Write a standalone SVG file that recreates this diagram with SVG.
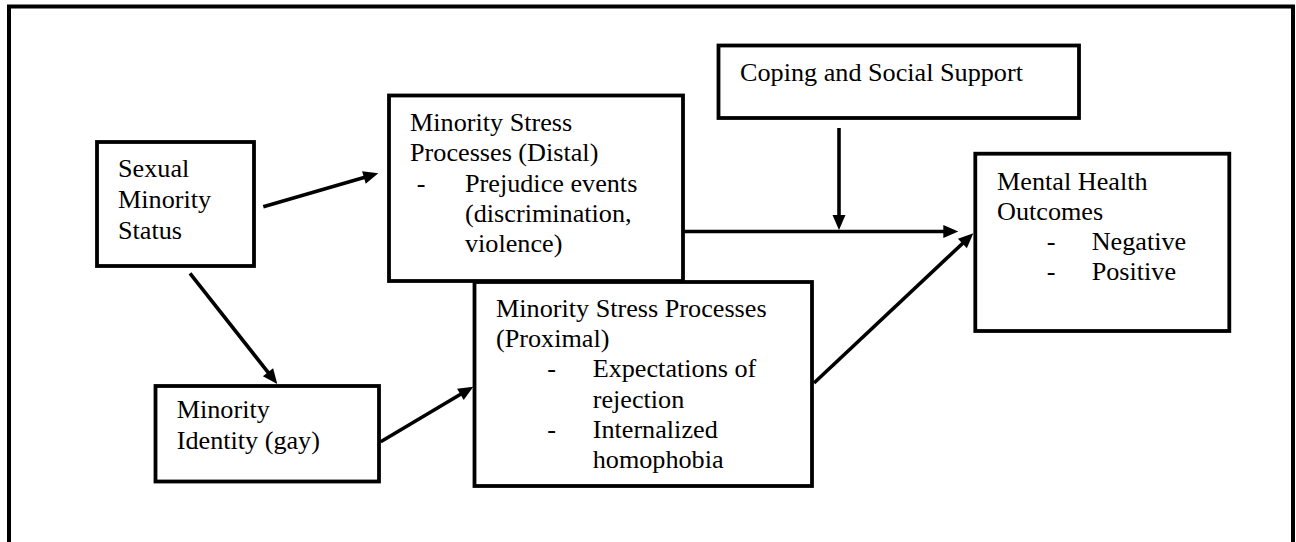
<svg xmlns="http://www.w3.org/2000/svg" width="1296" height="542" viewBox="0 0 1296 542">
<style>
.box{fill:#fff;stroke:#000;stroke-width:3.8}
.t{font-family:'Liberation Serif',serif;font-size:26.2px;fill:#000}
.c{fill:none;stroke:#000;stroke-width:3.6}
</style>
<defs>
<marker id="ah" markerUnits="userSpaceOnUse" markerWidth="16" markerHeight="14" refX="10" refY="6.5" orient="auto" overflow="visible">
<path d="M0,0 L15,6.5 L0,13 z" fill="#000"/>
</marker>
</defs>
<rect width="1296" height="542" fill="#fff"/>
<path d="M9,542 V6.5 H1293 V542" fill="none" stroke="#000" stroke-width="4"/>

<g id="connectors">
<line class="c" x1="263.3" y1="206.7" x2="373.5" y2="174.7" marker-end="url(#ah)"/>
<line class="c" x1="190" y1="273.3" x2="274.2" y2="380.1" marker-end="url(#ah)"/>
<line class="c" x1="380.7" y1="441.7" x2="469" y2="389.3" marker-end="url(#ah)"/>
<line class="c" x1="683" y1="231.5" x2="953.3" y2="231.5" stroke-width="3.3" marker-end="url(#ah)"/>
<line class="c" x1="839" y1="128" x2="839" y2="225" stroke-width="3.2" marker-end="url(#ah)"/>
<line class="c" x1="814" y1="383" x2="969.7" y2="236.7" marker-end="url(#ah)"/>
</g>

<g font-family="Liberation Serif, serif">
<g id="sexual-minority-status">
<rect class="box" x="97" y="142" width="157" height="124"/>
<text class="t" x="118" y="177">Sexual</text>
<text class="t" x="118" y="208">Minority</text>
<text class="t" x="118" y="239">Status</text>
</g>

<g id="distal">
<rect class="box" x="389" y="95.5" width="294" height="185.5"/>
<text class="t" x="410" y="131">Minority Stress</text>
<text class="t" x="410" y="161.3">Processes (Distal)</text>
<text class="t" x="416.7" y="191.6">-</text>
<text class="t" x="465" y="191.6">Prejudice events</text>
<text class="t" x="465" y="221.9">(discrimination,</text>
<text class="t" x="465" y="252.2">violence)</text>
</g>

<g id="minority-identity">
<rect class="box" x="155.5" y="386" width="223.5" height="95.5"/>
<text class="t" x="176.7" y="418.3">Minority</text>
<text class="t" x="176.7" y="448.5">Identity (gay)</text>
</g>

<g id="proximal">
<rect class="box" x="474.5" y="282" width="337.5" height="204"/>
<text class="t" x="496" y="316.7">Minority Stress Processes</text>
<text class="t" x="496" y="347">(Proximal)</text>
<text class="t" x="547.3" y="377.3">-</text>
<text class="t" x="592.7" y="377.3">Expectations of</text>
<text class="t" x="592.7" y="407.6">rejection</text>
<text class="t" x="547.3" y="437.9">-</text>
<text class="t" x="592.7" y="437.9">Internalized</text>
<text class="t" x="592.7" y="468.2">homophobia</text>
</g>

<g id="coping">
<rect class="box" x="718.5" y="45.5" width="360.5" height="72.5"/>
<text class="t" x="740" y="80.7">Coping and Social Support</text>
</g>

<g id="mental-health">
<rect class="box" x="975.3" y="153.7" width="254" height="177.3"/>
<text class="t" x="997" y="189.5">Mental Health</text>
<text class="t" x="997" y="219.8">Outcomes</text>
<text class="t" x="1046.7" y="250.1">-</text>
<text class="t" x="1091.7" y="250.1">Negative</text>
<text class="t" x="1046.7" y="280.4">-</text>
<text class="t" x="1091.7" y="280.4">Positive</text>
</g>
</g>
</svg>
